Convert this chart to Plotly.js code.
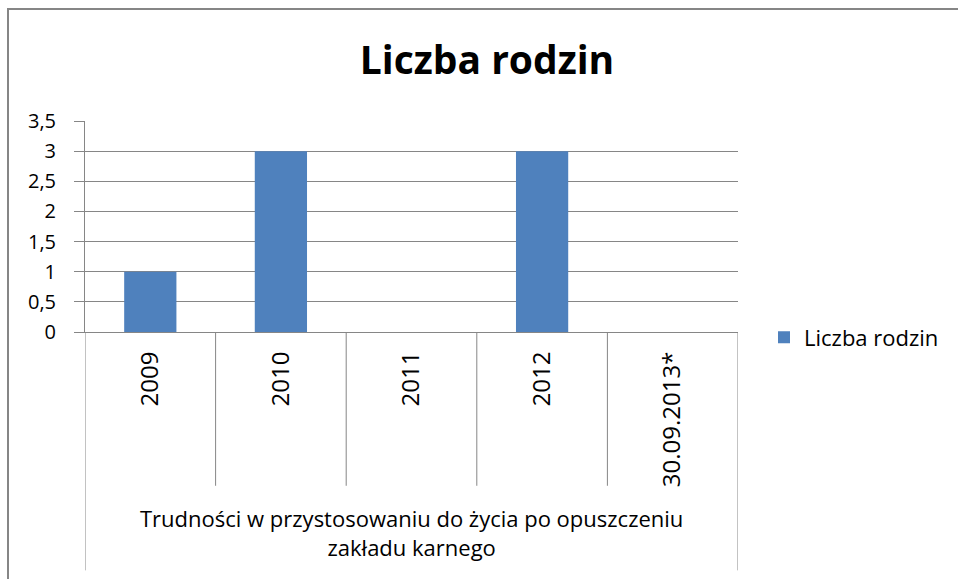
<!DOCTYPE html>
<html>
<head>
<meta charset="utf-8">
<script src="https://cdn.plot.ly/plotly-3.0.1.min.js"></script>
<style>
html,body{margin:0;padding:0;background:#fff;}
#chart{width:958px;height:579px;}
</style>
</head>
<body>
<div id="chart"></div>
<script>
const categories = ["2009", "2010", "2011", "2012", "30.09.2013*"];
const values = [1, 3, 0, 3, 0];
const seriesName = "Liczba rodzin";
const chartTitle = "Liczba rodzin";
const groupLabelLines = ["Trudności w przystosowaniu do życia po opuszczeniu", "zakładu karnego"];
const yTicks = [0, 0.5, 1, 1.5, 2, 2.5, 3, 3.5];

const FONT = "'Open Sans', 'Noto Sans', sans-serif";
const GRAY = "#868686";

const W = 958, H = 579;
const mL = 85, mR = 220, mT = 120.5, mB = 246.5;
const plotW = W - mL - mR, plotH = H - mT - mB;
const pyFromPx = px => (H - mB - px) / plotH;   // paper y from pixel y
const pxFromPx = px => (px - mL) / plotW;       // paper x from pixel x

const shapes = [];
// category boundary dividers below the axis
for (let i = 0; i <= categories.length; i++) {
  const outer = (i === 0 || i === categories.length);
  shapes.push({
    type: "line", xref: "x", yref: "paper",
    x0: i - 0.5, x1: i - 0.5,
    y0: 0, y1: pyFromPx(outer ? 572 : 487),
    line: {color: GRAY, width: 1}
  });
}
// outer chart border
shapes.push({
  type: "rect", xref: "paper", yref: "paper",
  x0: pxFromPx(8), x1: pxFromPx(980), y0: pyFromPx(8), y1: pyFromPx(600),
  line: {color: GRAY, width: 2}, fillcolor: "rgba(0,0,0,0)", layer: "below"
});

const data = [{
  type: "bar",
  x: categories,
  y: values,
  name: seriesName,
  width: 0.4,
  marker: {color: "#4F81BD"},
  showlegend: true
}];

const annotations = [{
  text: groupLabelLines.join("<br>"),
  xref: "paper", yref: "paper",
  x: 0.5, y: pyFromPx(534), xanchor: "center", yanchor: "middle",
  showarrow: false,
  font: {family: FONT, size: 22, color: "#000"}
}];

const layout = {
  width: W, height: H,
  margin: {l: mL, r: mR, t: mT, b: mB, pad: 0},
  paper_bgcolor: "#fff", plot_bgcolor: "#fff",
  separators: ", ",
  font: {family: FONT, size: 20, color: "#000"},
  title: {
    text: "<b>" + chartTitle + "</b>",
    font: {family: FONT, size: 39, color: "#000"},
    x: 487 / W, xanchor: "center", xref: "container",
    y: 1 - 60 / H, yanchor: "middle", yref: "container"
  },
  xaxis: {
    type: "category",
    range: [-0.5, categories.length - 0.5],
    showgrid: false, zeroline: false,
    showline: true, linecolor: GRAY, linewidth: 1,
    ticks: "", tickangle: -90,
    ticklabelstandoff: 9,
    tickfont: {family: FONT, size: 24, color: "#000"},
    fixedrange: true
  },
  yaxis: {
    range: [0, 3.5],
    tickvals: yTicks,
    ticks: "outside", ticklen: 10, tickcolor: GRAY, tickwidth: 1,
    showline: true, linecolor: GRAY, linewidth: 1,
    showgrid: true, gridcolor: GRAY, gridwidth: 1,
    zeroline: false,
    ticklabelstandoff: 14,
    tickfont: {family: FONT, size: 20, color: "#000"},
    fixedrange: true
  },
  legend: {
    x: pxFromPx(764), xanchor: "left",
    y: pyFromPx(338), yanchor: "middle",
    font: {family: FONT, size: 22, color: "#000"},
    bgcolor: "rgba(0,0,0,0)"
  },
  shapes: shapes,
  annotations: annotations
};

Plotly.newPlot("chart", data, layout, {displayModeBar: false, staticPlot: true});
</script>
</body>
</html>
